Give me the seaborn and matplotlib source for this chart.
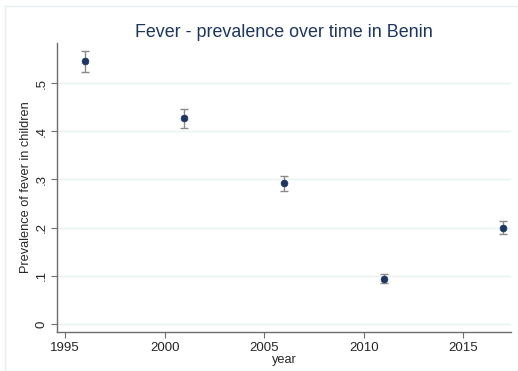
import numpy as np
import matplotlib.pyplot as plt
import seaborn as sns
import pandas as pd
from matplotlib.patches import Rectangle

# survey years and fever prevalence (with CI bounds)
year = [1996, 2001, 2006, 2011, 2017]
prev = [0.545, 0.427, 0.293, 0.094, 0.199]
lo = [0.522, 0.406, 0.277, 0.086, 0.186]
hi = [0.567, 0.447, 0.308, 0.103, 0.213]

df = pd.DataFrame({'year': year, 'prev': prev, 'lo': lo, 'hi': hi})

sns.set_style('white')
plt.rcParams['font.family'] = ['Liberation Sans', 'DejaVu Sans']

navy = '#1d3661'
fig = plt.figure(figsize=(5.18, 3.71), dpi=100)
ax = fig.add_axes([0.110, 0.105, 0.877, 0.779])

# outer graph region border
fig.patches.append(Rectangle((0.01, 0.0), 0.99, 0.985, transform=fig.transFigure,
                             fill=False, edgecolor='#e6eef0', lw=1))

ax.errorbar(df.year, df.prev, yerr=[df.prev - df.lo, df.hi - df.prev], fmt='none',
            ecolor='#8a8a8a', elinewidth=1, capsize=3, capthick=1, zorder=2)
sns.scatterplot(data=df, x='year', y='prev', color=navy, s=24, edgecolor=navy,
                linewidth=0.5, ax=ax, zorder=3)

ax.set_xlim(1994.6, 2017.4)
ax.set_ylim(-0.0166, 0.583)
ax.set_xticks([1995, 2000, 2005, 2010, 2015])
ax.set_yticks([0, 0.1, 0.2, 0.3, 0.4, 0.5])
ax.set_yticklabels(['0', '.1', '.2', '.3', '.4', '.5'], rotation=90, va='center')
ax.yaxis.grid(True, color='#eaf2f3', lw=1)
ax.set_axisbelow(True)

for s in ['top', 'right']:
    ax.spines[s].set_visible(False)
for s in ['left', 'bottom']:
    ax.spines[s].set_color('#6e6e6e')
    ax.spines[s].set_linewidth(1)
ax.tick_params(axis='both', direction='out', length=4, width=0.8, color='#6e6e6e',
               labelsize=9.5, pad=3, left=True, bottom=True)

ax.set_xlabel('year', fontsize=9.2, labelpad=0)
ax.set_ylabel('Prevalence of fever in children', fontsize=9.2, labelpad=2)
ax.set_title('Fever - prevalence over time in Benin', fontsize=12.9,
             color=navy, pad=4)

plt.savefig('out.png', dpi=100)
